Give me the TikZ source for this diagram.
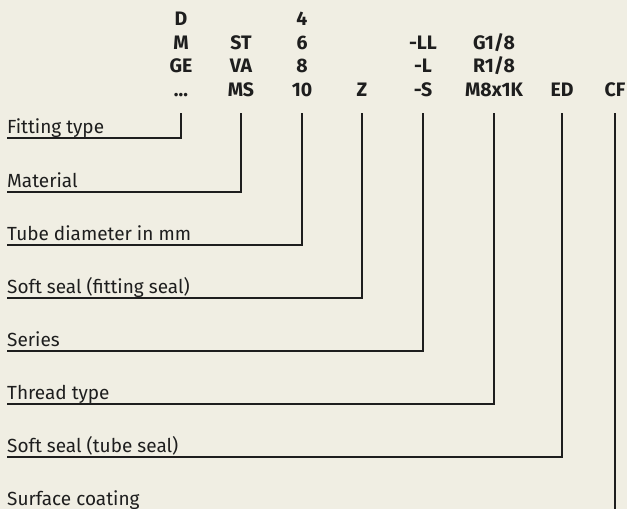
\documentclass[tikz,border=0pt]{standalone}
\usepackage{fontspec}
\setmainfont{Fira Sans}
\definecolor{bg}{HTML}{F0EEE3}
\definecolor{ink}{HTML}{1E1E1E}
\begin{document}
\begin{tikzpicture}[x=1pt,y=-1pt,
  head/.style={font=\fontsize{19.5}{22}\selectfont\bfseries, text=ink, inner sep=0pt, anchor=base},
  lbl/.style={font=\fontsize{19}{22}\selectfont, text=ink, inner sep=0pt, anchor=base west},
  conn/.style={draw=ink, line width=1.3pt}]
\useasboundingbox (0,0) rectangle (627,509);
\fill[bg] (0,0) rectangle (627,509);
% header rows (baselines)
\def\ra{25.5}\def\rb{49}\def\rc{72.5}\def\rd{96}
% column 1
\node[head] (h1a) at (181,\ra) {D};
\node[head] (h1b) at (181,\rb) {M};
\node[head] (h1c) at (181,\rc) {GE};
\node[head] (h1d) at (181,\rd) {…};
% column 2
\node[head] (h2b) at (241,\rb) {ST};
\node[head] (h2c) at (241,\rc) {VA};
\node[head] (h2d) at (241,\rd) {MS};
% column 3
\node[head] (h3a) at (302,\ra) {4};
\node[head] (h3b) at (302,\rb) {6};
\node[head] (h3c) at (302,\rc) {8};
\node[head] (h3d) at (302,\rd) {10};
% column 4
\node[head] (h4d) at (362,\rd) {Z};
% column 5
\node[head] (h5b) at (423,\rb) {-LL};
\node[head] (h5c) at (423,\rc) {-L};
\node[head] (h5d) at (423,\rd) {-S};
% column 6
\node[head] (h6b) at (494,\rb) {G1/8};
\node[head] (h6c) at (494,\rc) {R1/8};
\node[head] (h6d) at (494,\rd) {M8x1K};
% column 7, 8
\node[head] (h7d) at (562,\rd) {ED};
\node[head] (h8d) at (615,\rd) {CF};
% tops of connectors
\foreach \n/\x in {1/181,2/241,3/302,4/362,5/423,6/494,7/562,8/615}
  \coordinate (t\n) at (\x,113);
% labels
\node[lbl] (L1) at (7,133) {Fitting type};
\node[lbl] (L2) at (7,187) {Material};
\node[lbl] (L3) at (7,240) {Tube diameter in mm};
\node[lbl] (L4) at (7,293) {Soft seal (fitting seal)};
\node[lbl] (L5) at (7,346) {Series};
\node[lbl] (L6) at (7,399) {Thread type};
\node[lbl] (L7) at (7,452) {Soft seal (tube seal)};
\node[lbl] (L8) at (7,505) {Surface coating};
% connectors
\foreach \n in {1,...,7}
  \draw[conn] ([yshift=-5pt]L\n.base west) -| (t\n);
\draw[conn] ([yshift=-8pt]L8.base west) -| (t8);
\end{tikzpicture}
\end{document}
